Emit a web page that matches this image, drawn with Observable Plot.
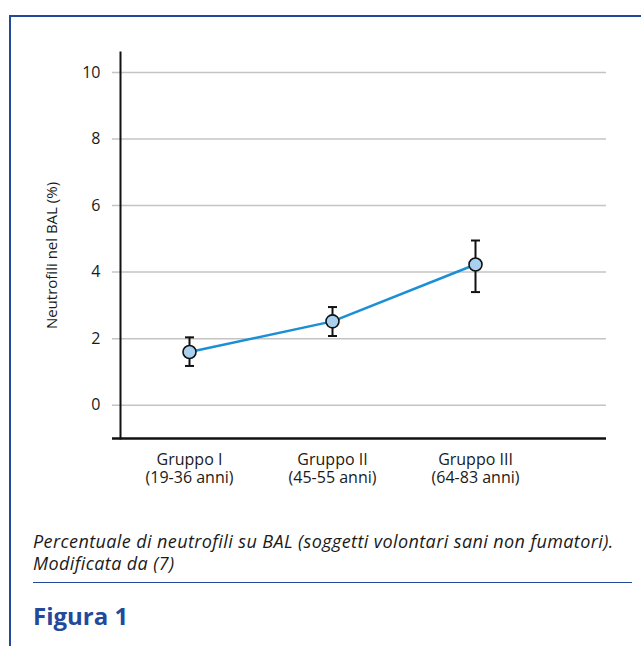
<!DOCTYPE html>
<html>
<head>
<meta charset="utf-8">
<script src="https://cdn.jsdelivr.net/npm/d3@7"></script>
<script src="https://cdn.jsdelivr.net/npm/@observablehq/plot@0.6"></script>
<style>
  html, body { margin: 0; padding: 0; background: #fff; }
  body { width: 641px; height: 646px; position: relative; overflow: hidden; font-family: "Open Sans", Lato, sans-serif; }
  #border { position: absolute; left: 9px; top: 15px; right: -5px; bottom: -5px; border-top: 2.5px solid #23499a; border-left: 2.5px solid #23499a; z-index: 2; }
  #chart { position: absolute; left: 0; top: 0; z-index: 1; }
  #caption { position: absolute; left: 33px; top: 530px; font-size: 18px; font-style: italic; color: #1a1a1a; line-height: 22px; letter-spacing: 0.4px; white-space: nowrap; }
  #rule { position: absolute; left: 33px; top: 582px; width: 599px; height: 0; border-top: 1.5px solid #23499a; }
  #figura { position: absolute; left: 33px; top: 599px; font-size: 24px; font-weight: bold; color: #23499a; font-family: "Open Sans", Roboto, sans-serif; }
</style>
</head>
<body>
<div id="border"></div>
<div id="chart"></div>
<div id="caption">Percentuale di neutrofili su BAL (soggetti volontari sani non fumatori).<br>Modificata da (7)</div>
<div id="rule"></div>
<div id="figura">Figura 1</div>
<script>
const groups = ["Gruppo I", "Gruppo II", "Gruppo III"];
const ageRanges = ["(19-36 anni)", "(45-55 anni)", "(64-83 anni)"];
const means = [1.6, 2.52, 4.23];
const upper = [2.04, 2.95, 4.95];
const lower = [1.18, 2.08, 3.40];
const yTicks = [0, 2, 4, 6, 8, 10];
const yTitle = "Neutrofili nel BAL (%)";

const data = groups.map((g, i) => ({group: g, age: ageRanges[i], mean: means[i], hi: upper[i], lo: lower[i]}));

const capSymbol = {
  draw(context, size) {
    const w = Math.sqrt(size / Math.PI);
    context.moveTo(-w, 0);
    context.lineTo(w, 0);
  }
};

const plot = Plot.plot({
  width: 641,
  height: 500,
  marginLeft: 120,
  marginRight: 35,
  marginTop: 52,
  marginBottom: 62,
  style: {background: "transparent", fontFamily: "'Open Sans', Lato, sans-serif", fontSize: "16px", color: "#1a1a1a"},
  x: {type: "point", domain: groups, range: [188, 475], padding: 0, axis: null},
  y: {domain: [-1, 10.6], axis: null},
  marks: [
    Plot.ruleY(yTicks, {stroke: "#c4c4c4", strokeWidth: 1.5, insetLeft: -8}),
    Plot.ruleY([-1], {stroke: "#111", strokeWidth: 2.5, insetLeft: -8}),
    Plot.frame({anchor: "left", stroke: "#111", strokeWidth: 2}),
    Plot.text(yTicks, {y: (d) => d, frameAnchor: "left", textAnchor: "end", dx: -20, fontSize: 16, fill: "#1a1a1a", text: (d) => String(d)}),
    Plot.text(data, {x: "group", frameAnchor: "bottom", lineAnchor: "top", dy: 14, fontSize: 16, lineHeight: 1.13, fill: "#1a1a1a",
      text: (d) => d.group + "\n" + d.age}),
    Plot.text([yTitle], {frameAnchor: "left", textAnchor: "middle", dx: -68, dy: 10, rotate: -90, fontSize: 15, fill: "#1a1a1a", text: (d) => d}),
    Plot.ruleX(data, {x: "group", y1: "lo", y2: "hi", stroke: "#111", strokeWidth: 2}),
    Plot.dot(data, {x: "group", y: "hi", symbol: capSymbol, r: 4.5, stroke: "#111", strokeWidth: 2, fill: "none"}),
    Plot.dot(data, {x: "group", y: "lo", symbol: capSymbol, r: 4.5, stroke: "#111", strokeWidth: 2, fill: "none"}),
    Plot.line(data, {x: "group", y: "mean", stroke: "#1b8fd6", strokeWidth: 2.5}),
    Plot.dot(data, {x: "group", y: "mean", r: 6.5, fill: "#a9d1ef", stroke: "#111", strokeWidth: 1.6})
  ]
});
document.getElementById("chart").appendChild(plot);
</script>
</body>
</html>
